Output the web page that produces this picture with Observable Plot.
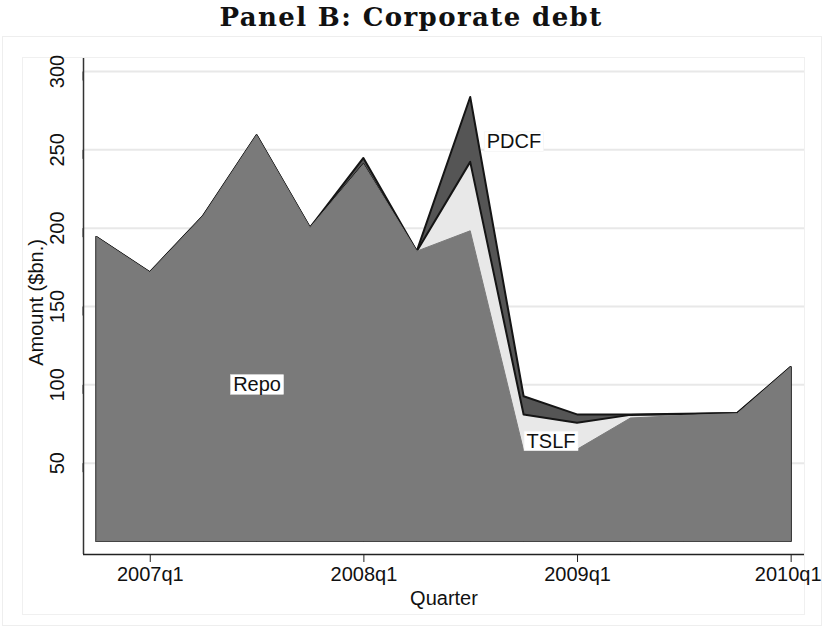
<!DOCTYPE html>
<html><head><meta charset="utf-8">
<script src="https://cdn.jsdelivr.net/npm/d3@7"></script>
<script src="https://cdn.jsdelivr.net/npm/@observablehq/plot@0.6"></script>
<style>
html,body{margin:0;padding:0;background:#fff;}
body{width:822px;height:627px;position:relative;overflow:hidden;font-family:"Liberation Sans",Arial,sans-serif;}
#title{position:absolute;left:0;top:0;width:822px;height:36px;text-align:center;font-family:"DejaVu Serif",serif;font-weight:bold;font-size:26px;letter-spacing:1.4px;line-height:35px;color:#111;}
#outer{position:absolute;left:2px;top:36px;width:820px;height:590px;border:1px solid #eeeeee;box-sizing:border-box;}
#inner{position:absolute;left:22px;top:57px;width:783px;height:558px;border:1px solid #f0f0f0;box-sizing:border-box;}
#chart{position:absolute;left:0;top:36px;}
</style></head>
<body>
<div id="outer"></div>
<div id="inner"></div>
<div id="title">Panel B: Corporate debt</div>
<div id="chart"></div>
<script>
// Quarters (x categories)
const quarters = ["2006q4","2007q1","2007q2","2007q3","2007q4","2008q1","2008q2","2008q3","2008q4","2009q1","2009q2","2009q3","2009q4","2010q1"];
// Series values ($bn.)
const repo = [194, 171.5, 207.5, 259, 200, 240.5, 185, 198, 57.7, 58.5, 78.5, 80.2, 81.3, 111];
const tslf = [0, 0, 0, 0, 0, 0, 0, 44, 23, 17, 2, 0.7, 0.4, 0];
const pdcf = [0, 0, 0, 0, 0, 4, 0, 41.4, 11.7, 5.3, 0.3, 0.3, 0, 0];
// Axis ticks
const xTickLabels = ["2007q1","2008q1","2009q1","2010q1"];
const yTicks = [50, 100, 150, 200, 250, 300];
// In-chart labels
const labelText = ["Repo", "PDCF", "TSLF"];
const labelQuarter = ["2007q3", "2008q3", "2008q4"];
const labelValue = [100, 255, 64];

const xDomain = [-0.25, quarters.length - 1 + 0.25];
const yDomain = [-8.3, 308.3];

const rows = quarters.map((q, i) => ({
  i, q,
  repo: repo[i],
  mid: repo[i] + tslf[i],
  total: repo[i] + tslf[i] + pdcf[i]
}));
const xTicks = xTickLabels.map(t => quarters.indexOf(t));
const labels = labelText.map((t, k) => ({
  text: t,
  i: quarters.indexOf(labelQuarter[k]),
  v: labelValue[k]
}));

const plot = Plot.plot({
  width: 822,
  height: 591,
  marginTop: 22,
  marginLeft: 83,
  marginRight: 18,
  marginBottom: 73,
  x: {domain: xDomain},
  y: {domain: yDomain},
  style: {fontFamily: "'Liberation Sans', Arial, sans-serif", fontSize: "20px", color: "#111", background: "transparent", overflow: "visible"},
  marks: [
    Plot.gridY(yTicks, {stroke: "#e8e8e8", strokeOpacity: 1, strokeWidth: 2}),
    Plot.areaY(rows, {x: "i", y1: 0, y2: "total", fill: "#555555", stroke: "#151515", strokeWidth: 2}),
    Plot.areaY(rows, {x: "i", y1: 0, y2: "mid", fill: "#e8e8e8", stroke: "#151515", strokeWidth: 2}),
    Plot.areaY(rows, {x: "i", y1: 0, y2: "repo", fill: "#7a7a7a", stroke: "#7a7a7a", strokeWidth: 1}),
    Plot.ruleX([xDomain[0]], {stroke: "#333", strokeWidth: 1.5}),
    Plot.ruleY([yDomain[0]], {stroke: "#222", strokeWidth: 1.4}),
    Plot.axisX(xTicks, {tickSize: 8, tickPadding: 4, tickFormat: i => quarters[i], label: null, stroke: "#222", fontSize: 20}),
    Plot.axisY(yTicks, {tickSize: 9, tickPadding: 17, rotate: -90, textAnchor: "middle", lineAnchor: "middle", label: null, stroke: "#333", fontSize: 20}),
    Plot.text(["Quarter"], {frameAnchor: "bottom", dy: 44, textAnchor: "middle", lineAnchor: "middle", fontSize: 20, fill: "#111"}),
    Plot.text(["Amount ($bn.)"], {frameAnchor: "left", dx: -47, dy: -4, rotate: -90, textAnchor: "middle", lineAnchor: "middle", fontSize: 20, fill: "#111"}),
    Plot.text(labels.filter(d => d.text === "Repo"), {x: "i", y: "v", text: "text", fontSize: 20, fill: "#111", lineAnchor: "middle", textAnchor: "middle"}),
    Plot.text(labels.filter(d => d.text === "PDCF"), {x: "i", y: "v", text: "text", fontSize: 20, fill: "#111", lineAnchor: "middle", textAnchor: "start", dx: 16}),
    Plot.text(labels.filter(d => d.text === "TSLF"), {x: "i", y: "v", text: "text", fontSize: 20, fill: "#111", lineAnchor: "middle", textAnchor: "start", dx: 2.5})
  ]
});
document.getElementById("chart").appendChild(plot);

plot.querySelectorAll('text').forEach(t => {
  if (t.textContent === xTickLabels[xTickLabels.length - 1]) {
    // keep the last tick label fully inside the page edge
    t.setAttribute("transform", "translate(-3,0) " + (t.getAttribute("transform") || ""));
    return;
  }
  // white boxes behind the in-chart labels (Stata-style text boxes)
  if (!labelText.includes(t.textContent)) return;
  const b = t.getBBox();
  const r = document.createElementNS("http://www.w3.org/2000/svg", "rect");
  r.setAttribute("x", b.x - 2.5);
  r.setAttribute("y", b.y + 1.5);
  r.setAttribute("width", b.width + 5);
  r.setAttribute("height", b.height - 2.5);
  r.setAttribute("fill", "#fff");
  r.setAttribute("stroke", "#f2f2f2");
  r.setAttribute("stroke-width", "0.6");
  if (t.getAttribute("transform")) r.setAttribute("transform", t.getAttribute("transform"));
  t.parentNode.insertBefore(r, t);
});
</script>
</body></html>
